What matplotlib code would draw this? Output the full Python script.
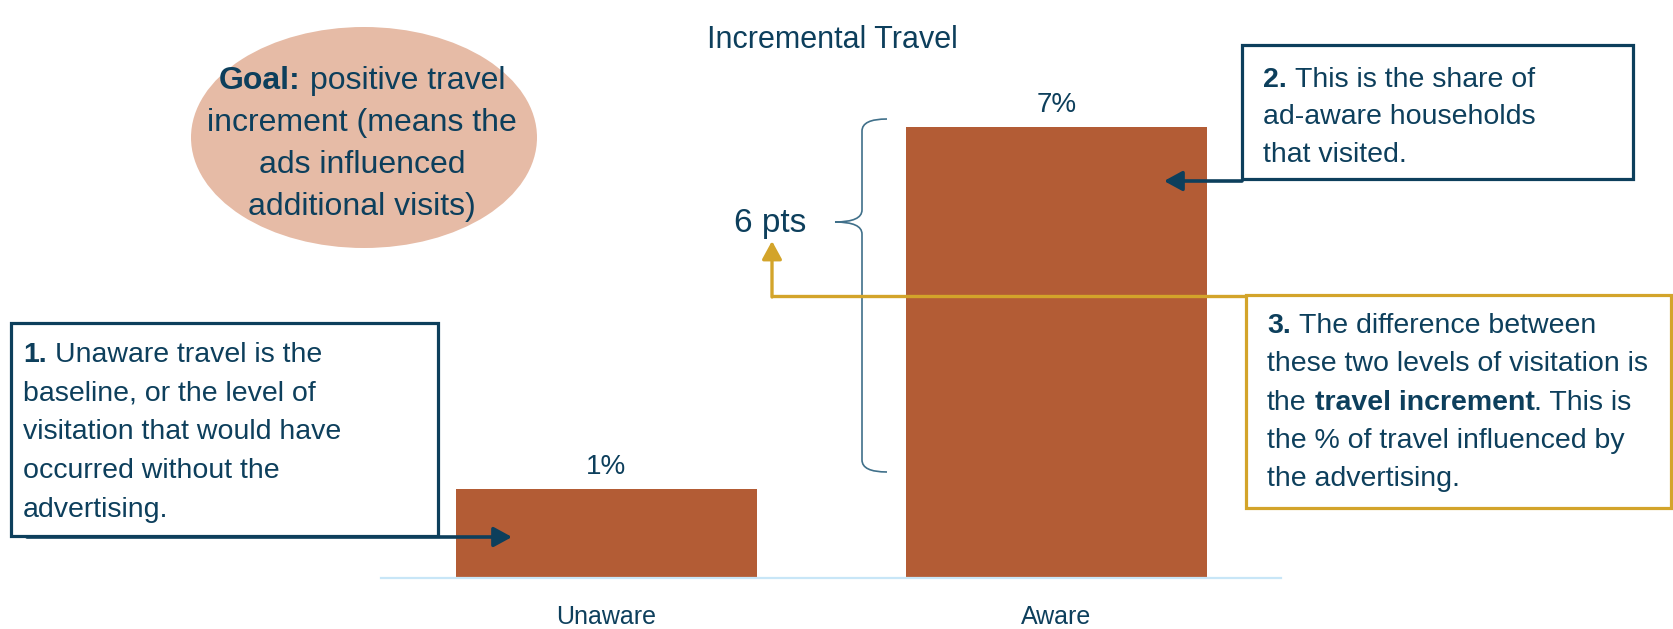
import matplotlib
matplotlib.use('Agg')
import matplotlib.pyplot as plt
from matplotlib.patches import Ellipse, Rectangle, PathPatch
from matplotlib.path import Path

# data
categories = ['Unaware', 'Aware']
values = [1.4, 7.1]
value_labels = ['1%', '7%']
title = 'Incremental Travel'
diff_label = '6 pts'

NAVY = '#0d3f5c'
BAR = '#b35c35'
GOLD = '#d3a42a'
PINK = '#e6bba6'
BRACE = '#40708a'
BASE = '#c8e6f7'
FONT = ['Liberation Sans', 'DejaVu Sans']

W, H = 1674, 629
fig = plt.figure(figsize=(W / 100, H / 100), dpi=100)
fig.patch.set_facecolor('white')

# bar axes, positioned in pixels
base_y = 577.6
ax = fig.add_axes([381.5 / W, (H - base_y) / H, 900 / W, 507.7 / H])
ax.bar(range(len(categories)), values, width=0.667, color=BAR, zorder=2)
ax.set_xlim(-0.5, 1.5)
ax.set_ylim(0, 8)
ax.set_xticks(range(len(categories)))
ax.set_xticklabels(categories, fontsize=18, color=NAVY, family=FONT)
ax.tick_params(axis='x', length=0, pad=20)
ax.set_yticks([])
for s in ['top', 'left', 'right']:
    ax.spines[s].set_visible(False)
ax.spines['bottom'].set_color(BASE)
ax.spines['bottom'].set_linewidth(1.6)
for i, (v, lab) in enumerate(zip(values, value_labels)):
    ax.annotate(lab, (i, v), xytext=(0, 15), textcoords='offset pixels',
                ha='center', va='baseline', fontsize=20, color=NAVY, family=FONT)

# overlay in pixel units for the annotations
ov = fig.add_axes([0, 0, 1, 1])
ov.set_xlim(0, W)
ov.set_ylim(H, 0)
ov.axis('off')

ov.text(832, 40, title, ha='center', va='center', fontsize=22, color=NAVY, family=FONT)

renderer = fig.canvas.get_renderer()


def rich(x, y, parts, size, ha='left'):
    # parts: (text, bold); y is the baseline in pixels
    px = size * 100 / 72
    objs, offs = [], []
    cur = 0
    for s, b in parts:
        if s.startswith(' '):
            cur += 0.278 * px
            s = s.lstrip()
        t = ov.text(0, y, s, fontsize=size, fontweight='bold' if b else 'normal',
                    color=NAVY, va='baseline', ha='left', family=FONT)
        w = t.get_window_extent(renderer).width
        objs.append(t)
        offs.append(cur)
        cur += w
    x0 = x - cur / 2 if ha == 'center' else x
    for t, o in zip(objs, offs):
        t.set_x(x0 + o)


# goal ellipse
ov.add_patch(Ellipse((364, 137.5), 346, 221, facecolor=PINK, edgecolor='none'))
goal_lines = [[('Goal:', True), (' positive travel', False)],
              [('increment (means the', False)],
              [('ads influenced', False)],
              [('additional visits)', False)]]
for k, ln in enumerate(goal_lines):
    rich(362, 89 + k * 42, ln, 23, ha='center')

# box 1
ov.add_patch(Rectangle((11, 323), 427, 213, facecolor='white', edgecolor=NAVY, lw=2.3))
box1 = [[('1.', True), (' Unaware travel is the', False)],
        [('baseline, or the level of', False)],
        [('visitation that would have', False)],
        [('occurred without the', False)],
        [('advertising.', False)]]
for k, ln in enumerate(box1):
    rich(23, 362 + k * 38.7, ln, 20.5)
ov.annotate('', xy=(512, 537), xytext=(27, 537),
            arrowprops=dict(arrowstyle='-|>,head_length=0.55,head_width=0.3', mutation_scale=20,
                            lw=2.6, color=NAVY, shrinkA=0, shrinkB=0))

# box 2
ov.add_patch(Rectangle((1242, 45), 391, 134, facecolor='white', edgecolor=NAVY, lw=2.3))
box2 = [[('2.', True), (' This is the share of', False)],
        [('ad-aware households', False)],
        [('that visited.', False)]]
for k, ln in enumerate(box2):
    rich(1263, 87 + k * 37.5, ln, 20.5)
ov.annotate('', xy=(1164, 181), xytext=(1242, 181),
            arrowprops=dict(arrowstyle='-|>,head_length=0.55,head_width=0.3', mutation_scale=20,
                            lw=2.6, color=NAVY, shrinkA=0, shrinkB=0))

# box 3
ov.add_patch(Rectangle((1246, 295), 425, 213, facecolor='white', edgecolor=GOLD, lw=2.3))
box3 = [[('3.', True), (' The difference between', False)],
        [('these two levels of visitation is', False)],
        [('the', False), (' travel increment', True), ('. This is', False)],
        [('the % of travel influenced by', False)],
        [('the advertising.', False)]]
for k, ln in enumerate(box3):
    rich(1267, 333 + k * 38.3, ln, 20.5)
ov.plot([1246, 772], [296, 296], color=GOLD, lw=2.4, solid_capstyle='butt')
ov.annotate('', xy=(772, 241), xytext=(772, 297),
            arrowprops=dict(arrowstyle='-|>,head_length=0.55,head_width=0.3', mutation_scale=20,
                            lw=2.4, color=GOLD, shrinkA=0, shrinkB=0))

# brace
verts = [(887, 119), (862, 119), (862, 131), (862, 210), (862, 222), (835, 222),
         (862, 222), (862, 234), (862, 460), (862, 472), (887, 472)]
codes = [Path.MOVETO, Path.CURVE3, Path.CURVE3, Path.LINETO, Path.CURVE3, Path.CURVE3,
         Path.CURVE3, Path.CURVE3, Path.LINETO, Path.CURVE3, Path.CURVE3]
ov.add_patch(PathPatch(Path(verts, codes), facecolor='none', edgecolor=BRACE, lw=1.2))
ov.text(770, 232, diff_label, ha='center', va='baseline', fontsize=24, color=NAVY, family=FONT)

fig.savefig('out.png', dpi=100, facecolor='white')
